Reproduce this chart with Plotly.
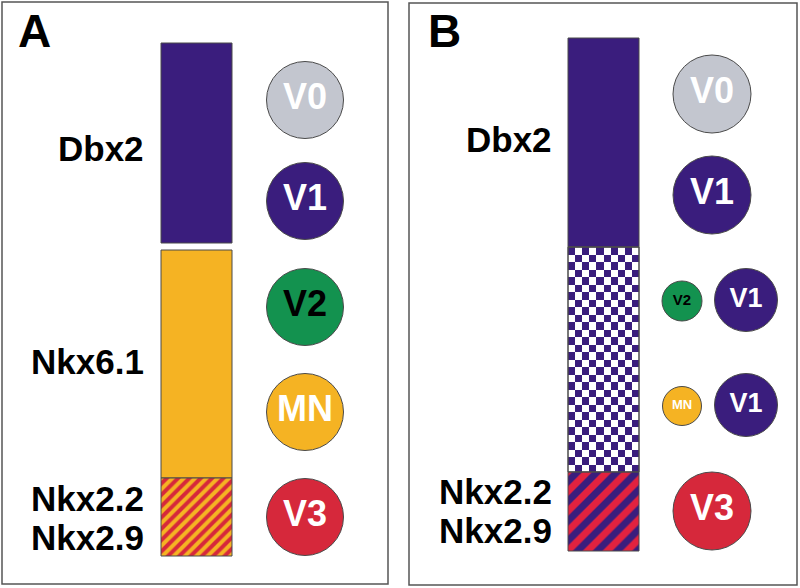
import plotly.graph_objects as go

# ---------------- data (diagram units = pixels of the 800x588 canvas) ----------------
# Panel A: progenitor domains along the dorso-ventral axis
a_domains = ["Dbx2", "Nkx6.1", "Nkx2.2/Nkx2.9"]
a_top = [43, 250, 478]
a_bottom = [243, 478, 556]
a_label_text = ["Dbx2", "Nkx6.1", "Nkx2.2", "Nkx2.9"]
a_label_y = [148, 361, 498, 537]

# Panel A: neuron classes generated
a_cells = ["V0", "V1", "V2", "MN", "V3"]
a_cell_y = [100, 201, 307, 412, 517]
a_cell_d = [77, 77, 77, 77, 77]

# Panel B: domains
b_domains = ["Dbx2", "Dbx2/Nkx6.1 mixed", "Nkx2.2/Nkx2.9"]
b_top = [38, 247, 472]
b_bottom = [247, 472, 551]
b_label_text = ["Dbx2", "Nkx2.2", "Nkx2.9"]
b_label_y = [139, 491, 530]

# Panel B: neuron classes generated
b_cells = ["V0", "V1", "V2", "V1", "MN", "V1", "V3"]
b_cell_col = [0, 0, -1, 1, -1, 1, 0]
b_cell_y = [94, 195, 301, 300, 406, 405, 511]
b_cell_d = [78, 78, 40, 63, 39, 63, 78]

# ---------------- styles / layout ----------------
PURPLE = "#3a1d7d"
ORANGE = "#f5b323"
RED = "#d6283b"
RED_B = "#e2223f"
GREEN = "#13924f"
GRAY = "#c3c6cf"
OUT = "#4a4a4a"
FONT = "Liberation Sans, Arial, Helvetica, sans-serif"

cell_color = {"V0": GRAY, "V1": PURPLE, "V2": GREEN, "MN": ORANGE, "V3": RED}
cell_text = {"V0": "white", "V1": "white", "V2": "black", "MN": "white", "V3": "white"}

A_BAR_X, B_BAR_X, BAR_W = 196.5, 603.5, 71
A_CELL_X = 305
B_CELL_X = {0: 712, -1: 682, 1: 746}
A_LABEL_X, B_LABEL_X = 146, 554

fig = go.Figure()

# Panel A bars
a_styles = [
    dict(color=PURPLE),
    dict(color=ORANGE),
    dict(color=ORANGE, pattern=dict(shape="/", bgcolor=ORANGE, fgcolor=RED, size=8, solidity=0.5, fillmode="replace")),
]
for name, t, b, st in zip(a_domains, a_top, a_bottom, a_styles):
    fig.add_trace(go.Bar(x=[A_BAR_X], y=[b - t], base=[t], width=[BAR_W], name=name,
                         marker=dict(line=dict(color=OUT, width=1), **st), hoverinfo="name"))

# Panel B bars (checker zone filled by a heatmap texture)
b_styles = [
    dict(color=PURPLE),
    dict(color="rgba(0,0,0,0)"),
    dict(color=RED_B, pattern=dict(shape="/", bgcolor=RED_B, fgcolor=PURPLE, size=14, solidity=0.5, fillmode="replace")),
]
for name, t, b, st in zip(b_domains, b_top, b_bottom, b_styles):
    fig.add_trace(go.Bar(x=[B_BAR_X], y=[b - t], base=[t], width=[BAR_W], name=name,
                         marker=dict(line=dict(color=OUT, width=1), **st), hoverinfo="name"))

# checkerboard texture for the mixed zone
ncol = 10
cx = BAR_W / ncol
t, b = b_top[1], b_bottom[1]
nrow = 30
cy = (b - t) / nrow
z = [[(i + j) % 2 for j in range(ncol)] for i in range(nrow)]
fig.add_trace(go.Heatmap(z=z, x0=B_BAR_X - BAR_W / 2 + cx / 2, dx=cx, y0=t + cy / 2, dy=cy,
                         colorscale=[[0, PURPLE], [1, "white"]], showscale=False, zsmooth=False,
                         hoverinfo="skip"))

# cells
fig.add_trace(go.Scatter(
    x=[A_CELL_X] * len(a_cells), y=a_cell_y, mode="markers+text", text=a_cells,
    marker=dict(size=a_cell_d, opacity=1, color=[cell_color[c] for c in a_cells], line=dict(color=OUT, width=1)),
    textposition="middle center",
    textfont=dict(family=FONT, size=36, color=[cell_text[c] for c in a_cells], weight="bold"),
    hoverinfo="text"))
b_sizes = {78: 36, 63: 27, 40: 15, 39: 13}
fig.add_trace(go.Scatter(
    x=[B_CELL_X[c] for c in b_cell_col], y=b_cell_y, mode="markers+text", text=b_cells,
    marker=dict(size=b_cell_d, opacity=1, color=[cell_color[c] for c in b_cells], line=dict(color=OUT, width=1)),
    textposition="middle center",
    textfont=dict(family=FONT, size=[b_sizes[d] for d in b_cell_d], color=[cell_text[c] for c in b_cells], weight="bold"),
    hoverinfo="text"))

# domain labels
for s, y in zip(a_label_text, a_label_y):
    fig.add_annotation(x=A_LABEL_X, y=y, text=s, showarrow=False, xanchor="right", yanchor="middle",
                       font=dict(family=FONT, size=35, color="black", weight="bold"))
for s, y in zip(b_label_text, b_label_y):
    fig.add_annotation(x=B_LABEL_X, y=y, text=s, showarrow=False, xanchor="right", yanchor="middle",
                       font=dict(family=FONT, size=35, color="black", weight="bold"))

# panel letters
fig.add_annotation(x=34.5, y=31, text="A", showarrow=False, xanchor="center", yanchor="middle",
                   font=dict(family=FONT, size=46, color="black", weight="bold"))
fig.add_annotation(x=444, y=31, text="B", showarrow=False, xanchor="center", yanchor="middle",
                   font=dict(family=FONT, size=46, color="black", weight="bold"))

# panel frames and checker outline
fig.add_shape(type="rect", x0=2, y0=2, x1=388, y1=584, line=dict(color="#555", width=1.5), layer="above")
fig.add_shape(type="rect", x0=409, y0=3, x1=797, y1=585, line=dict(color="#555", width=1.5), layer="above")
fig.add_shape(type="rect", x0=B_BAR_X - BAR_W / 2, y0=b_top[1], x1=B_BAR_X + BAR_W / 2, y1=b_bottom[1],
              line=dict(color=OUT, width=1), layer="above")

fig.update_layout(
    width=800, height=588, margin=dict(l=0, r=0, t=0, b=0),
    paper_bgcolor="white", plot_bgcolor="white", showlegend=False, barmode="overlay",
    xaxis=dict(range=[0, 800], visible=False, fixedrange=True),
    yaxis=dict(range=[588, 0], visible=False, fixedrange=True),
)

fig.write_html("out.html", config={"displayModeBar": False},
               post_script="document.body.style.margin='0';document.body.style.overflow='hidden';")
